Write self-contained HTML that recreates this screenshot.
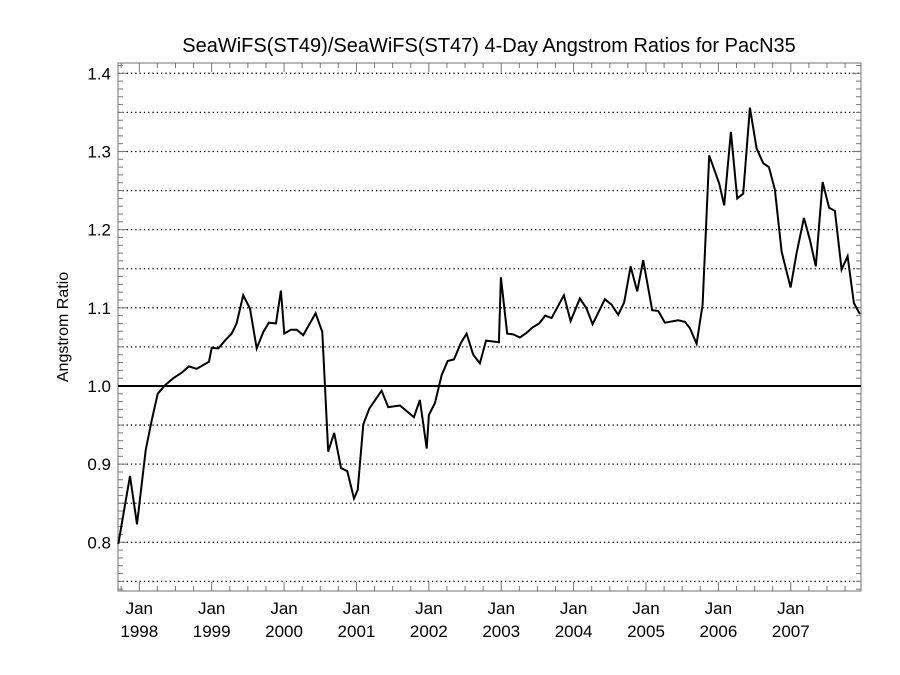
<!DOCTYPE html>
<html><head><meta charset="utf-8"><style>
html,body{margin:0;padding:0;background:#fff;}
svg{display:block;font-family:"Liberation Sans",Arial,sans-serif;}
</style></head><body>
<svg id="chart" width="900" height="675" viewBox="0 0 900 675" xmlns="http://www.w3.org/2000/svg">
<rect width="900" height="675" fill="#fff"/>
<text x="489" y="52" font-size="20" text-anchor="middle" fill="#000">SeaWiFS(ST49)/SeaWiFS(ST47) 4-Day Angstrom Ratios for PacN35</text>
<text transform="translate(68,327) rotate(-90)" font-size="16" text-anchor="middle" fill="#000">Angstrom Ratio</text>
<g id="grid"></g><g id="axes"></g><g id="series"></g>
</svg>
<script>
const dates=[1997.710,1997.872,1997.968,1998.088,1998.171,1998.254,1998.355,1998.470,1998.586,1998.686,1998.793,1998.963,1999.000,1999.091,1999.184,1999.276,1999.345,1999.436,1999.529,1999.622,1999.713,1999.791,1999.888,1999.957,2000.003,2000.095,2000.174,2000.265,2000.436,2000.528,2000.610,2000.693,2000.786,2000.873,2000.966,2001.017,2001.094,2001.177,2001.348,2001.439,2001.601,2001.794,2001.877,2001.970,2002.001,2002.084,2002.177,2002.260,2002.347,2002.443,2002.522,2002.613,2002.706,2002.789,2002.968,2002.996,2003.083,2003.166,2003.258,2003.351,2003.434,2003.525,2003.608,2003.696,2003.866,2003.959,2004.087,2004.180,2004.262,2004.432,2004.525,2004.616,2004.699,2004.787,2004.878,2004.961,2005.086,2005.169,2005.261,2005.445,2005.537,2005.606,2005.699,2005.782,2005.873,2006.011,2006.080,2006.173,2006.260,2006.343,2006.435,2006.528,2006.619,2006.698,2006.780,2006.873,2006.997,2007.080,2007.181,2007.264,2007.345,2007.439,2007.530,2007.609,2007.702,2007.785,2007.872,2007.955];
const ratios=[0.798,0.885,0.823,0.918,0.956,0.990,1.001,1.010,1.017,1.025,1.022,1.031,1.049,1.048,1.058,1.067,1.080,1.116,1.099,1.048,1.069,1.081,1.080,1.122,1.067,1.072,1.072,1.065,1.093,1.069,0.916,0.940,0.895,0.891,0.856,0.867,0.951,0.971,0.994,0.973,0.975,0.960,0.982,0.920,0.963,0.978,1.014,1.032,1.034,1.055,1.067,1.040,1.029,1.058,1.056,1.139,1.067,1.066,1.062,1.068,1.075,1.080,1.090,1.087,1.116,1.083,1.112,1.099,1.079,1.111,1.104,1.091,1.107,1.153,1.121,1.161,1.097,1.096,1.081,1.084,1.082,1.074,1.054,1.104,1.295,1.259,1.231,1.325,1.240,1.246,1.356,1.304,1.285,1.280,1.251,1.172,1.126,1.170,1.215,1.187,1.153,1.261,1.228,1.224,1.149,1.166,1.106,1.092];
const yTickLabels=["0.8","0.9","1.0","1.1","1.2","1.3","1.4"];
const xYearLabels=["1998","1999","2000","2001","2002","2003","2004","2005","2006","2007"];
const refValue=1.0;

const L=118,R=861,T=63,B=591;
const X0=1997.706,X1=2007.970,Y0=0.7377,Y1=1.4132;
const xs=v=>L+(v-X0)/(X1-X0)*(R-L);
const ys=v=>B-(v-Y0)/(Y1-Y0)*(B-T);
const NS="http://www.w3.org/2000/svg";
function mk(tag,attrs,parent){const e=document.createElementNS(NS,tag);for(const k in attrs)e.setAttribute(k,attrs[k]);parent.appendChild(e);return e;}
const grid=document.getElementById('grid'),axes=document.getElementById('axes'),series=document.getElementById('series');

// dotted gridlines every 0.05
for(let i=0;i<=13;i++){const v=0.75+i*0.05;if(v>Y1)break;const y=ys(v);
 const g=mk('line',{x1:L,x2:R,y1:y,y2:y,stroke:'#000','stroke-width':1.3,'stroke-dasharray':'1.3 3'},grid);
 
 
}
// axes frame
const fr=mk('rect',{x:L,y:T,width:R-L,height:B-T,fill:'none',stroke:'#888','stroke-width':1.2},axes);


// y minor ticks every 0.01
for(let i=0;i<=70;i++){const v=0.74+i*0.01;if(v>Y1)break;const y=ys(v);const major=Math.abs((v*10)-Math.round(v*10))<1e-6;const len=major?9:5;
 mk('line',{x1:L,x2:L+len,y1:y,y2:y,stroke:'#777','stroke-width':1},axes);
 mk('line',{x1:R,x2:R-len,y1:y,y2:y,stroke:'#777','stroke-width':1},axes);
}
yTickLabels.forEach(s=>{const v=parseFloat(s);const t=mk('text',{x:L-7,y:ys(v)+6,'font-size':17,'text-anchor':'end',fill:'#000'},axes);t.textContent=s;
 
 
});
// x ticks: quarterly minor, yearly major
for(let q=0;q<48;q++){const v=1997.75+q*0.25;if(v>X1)break;const x=xs(v);const major=Math.abs(v-Math.round(v))<1e-6;const len=major?9:5;
 mk('line',{x1:x,x2:x,y1:B,y2:B-len,stroke:'#777','stroke-width':1},axes);
 mk('line',{x1:x,x2:x,y1:T,y2:T+len,stroke:'#777','stroke-width':1},axes);
}
xYearLabels.forEach(s=>{const x=xs(parseFloat(s));
 const a=mk('text',{x:x,y:614,'font-size':17,'text-anchor':'middle',fill:'#000'},axes);a.textContent='Jan';
 
 
 const b=mk('text',{x:x,y:637,'font-size':17,'text-anchor':'middle',fill:'#000'},axes);b.textContent=s;
 
 
});
// reference line
const rl=mk('line',{x1:L,x2:R,y1:ys(refValue),y2:ys(refValue),stroke:'#000','stroke-width':2},series);


// series
const pts=dates.map((d,i)=>xs(d).toFixed(1)+','+ys(ratios[i]).toFixed(1)).join(' ');
const pl=mk('polyline',{points:pts,fill:'none',stroke:'#000','stroke-width':2,'stroke-linejoin':'miter'},series);


</script>
</body></html>
